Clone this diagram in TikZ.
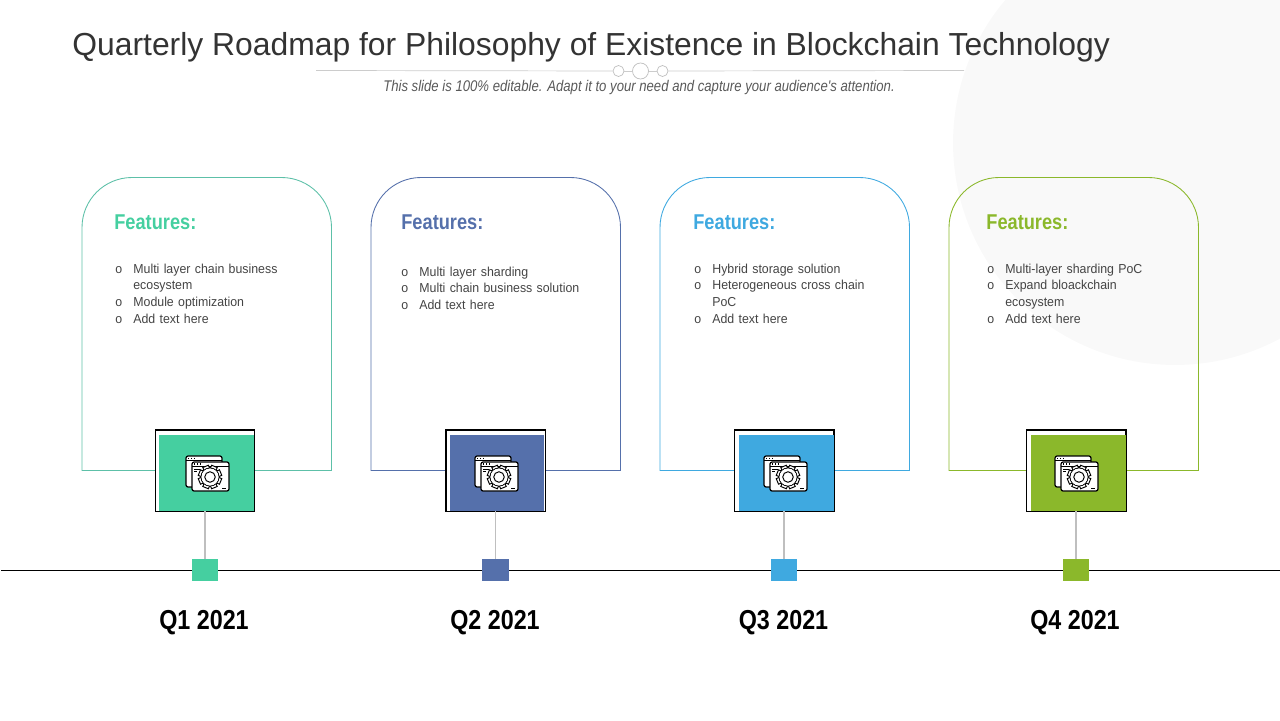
\documentclass[tikz,border=0pt]{standalone}
\usepackage{fontspec}
\setmainfont{Liberation Sans}
\newfontfamily\narrowfont[FakeStretch=0.85]{Liberation Sans}
\newfontfamily\bodyfont[FakeStretch=0.95]{Liberation Sans}
\usetikzlibrary{positioning}
\definecolor{mint}{HTML}{45CFA0}
\definecolor{cardmint}{HTML}{5DC0A8}
\definecolor{slate}{HTML}{5570AB}
\definecolor{sky}{HTML}{3FA9E0}
\definecolor{lime}{HTML}{8BB82B}
\definecolor{ink}{HTML}{444444}
\newenvironment{featlist}{\begin{list}{o}{\setlength{\leftmargin}{10.25pt}\setlength{\labelwidth}{10.25pt}\setlength{\labelsep}{0pt}\setlength{\itemsep}{0pt}\setlength{\parsep}{0pt}\setlength{\topsep}{0pt}\setlength{\partopsep}{0pt}\renewcommand{\makelabel}[1]{##1\hfil}}}{\end{list}}
\tikzset{
 feathead/.style={anchor=west, inner sep=0pt, font=\narrowfont\bfseries\fontsize{12.2}{14}\selectfont},
 featbody/.style={anchor=north west, inner sep=0pt, text width=3.8cm, align=left, text=ink, font=\bodyfont\fontsize{7.4}{9.5}\selectfont},
 iconframe/.style={draw=black, fill=white, line width=0.55pt, inner sep=0pt, minimum width=1.98cm, minimum height=1.62cm},
 iconfill/.style={inner sep=0pt, minimum width=1.9cm, minimum height=1.52cm},
 tickbox/.style={inner sep=0pt, minimum width=0.53cm, minimum height=0.44cm},
 quarter/.style={inner sep=0pt, font=\narrowfont\bfseries\fontsize{15.6}{20}\selectfont},
 stem/.style={draw=black!25, line width=0.6pt},
 dot/.style={circle, draw=black!25, fill=white, line width=0.4pt, inner sep=0pt},
 pics/softicon/.style={code={
  \draw[fill=white, line width=0.7pt, rounded corners=1.2pt] (-19,-22) rectangle (17,9);
  \draw[line width=0.4pt] (-19,-18) -- (17,-18);
  \draw[line width=0.4pt] (-17,-20.5) -- (-17,-19) (-14,-20.5) -- (-14,-19) (-11,-20.5) -- (-11,-19);
  \draw[fill=white, line width=0.7pt, rounded corners=1.2pt] (-13,-16) rectangle (24,13);
  \draw[line width=0.4pt] (-13,-12) -- (24,-12);
  \draw[line width=0.4pt] (-11,-15) -- (-11,-13.5) (-8,-15) -- (-8,-13.5) (-5,-15) -- (-5,-13.5);
  \draw[line width=0.4pt] (-11,-9) -- (-5,-9) (-11,-7) -- (-8,-7) (17,10) -- (21,10);
  \foreach \a in {0,45,...,315}
   \draw[rotate around={\a+22.5:(5,-1)}, line width=0.55pt, fill=white] (2,-1) rectangle (8,-12.5);
  \draw[line width=0.55pt, fill=white] (5,-1) circle (0.18cm);
  \fill[white] (5,-1) circle (0.17cm);
  \draw[line width=0.55pt] (5,-1) circle (0.105cm);
 }}
}
\begin{document}
\begin{tikzpicture}[x=0.02cm,y=-0.02cm]
 \useasboundingbox (0,0) rectangle (1280,720);
 \begin{scope}
  \clip (0,0) rectangle (1280,720);
  \fill[black!2.5] (1175,143) circle (4.44cm);
 \end{scope}
 % heading
 \node[inner sep=0pt, anchor=west, text=black!80, font=\fontsize{18.13}{22}\selectfont] (title) at (72,47) {Quarterly Roadmap for Philosophy of Existence in Blockchain Technology};
 \coordinate (ruleL) at (316,70.5);
 \coordinate (ruleR) at (964,70.5);
 \node[dot, minimum size=0.22cm] (dotA) at (618.5,71) {};
 \node[dot, minimum size=0.32cm] (dotB) at (640.5,71) {};
 \node[dot, minimum size=0.22cm] (dotC) at (662.5,71) {};
 \draw[black!20, line width=0.4pt] (ruleL) -- (dotA);
 \draw[black!20, line width=0.4pt] (dotA) -- (dotB);
 \draw[black!20, line width=0.4pt] (dotB) -- (dotC);
 \draw[black!20, line width=0.4pt] (dotC) -- (ruleR);
 \node[inner sep=0pt, text=black!65, font=\narrowfont\itshape\fontsize{8.8}{10}\selectfont] (subtitle) at (639,88) {This slide is 100\% editable. Adapt it to your need and capture your audience's attention.};
 % cards
 \draw[cardmint, line width=0.5pt] (155,470.5) -- (82,470.5) [rounded corners=1cm] -- (82,177.5) -- (331.5,177.5) [sharp corners] -- (331.5,470.5) -- (254,470.5);
 \draw[slate, line width=0.5pt] (446,470.5) -- (371,470.5) [rounded corners=1cm] -- (371,177.5) -- (620.5,177.5) [sharp corners] -- (620.5,470.5) -- (545,470.5);
 \draw[sky, line width=0.5pt] (735,470.5) -- (660,470.5) [rounded corners=1cm] -- (660,177.5) -- (909.5,177.5) [sharp corners] -- (909.5,470.5) -- (833,470.5);
 \draw[lime, line width=0.5pt] (1026,470.5) -- (949,470.5) [rounded corners=1cm] -- (949,177.5) -- (1198.5,177.5) [sharp corners] -- (1198.5,470.5) -- (1125,470.5);
 % card texts
 \node[feathead, text=mint] (headA) at (114,222) {Features:};
 \node[feathead, text=slate] (headB) at (401,222) {Features:};
 \node[feathead, text=sky] (headC) at (693,222) {Features:};
 \node[feathead, text=lime] (headD) at (986,222) {Features:};
 \node[featbody] (bodyA) at (115,256) {\begin{featlist}\item Multi layer chain business\newline ecosystem \item Module optimization \item Add text here\end{featlist}};
 \node[featbody] (bodyB) at (401,259) {\begin{featlist}\item Multi layer sharding \item Multi chain business solution \item Add text here\end{featlist}};
 \node[featbody] (bodyC) at (694,256) {\begin{featlist}\item Hybrid storage solution \item Heterogeneous cross chain\newline PoC \item Add text here\end{featlist}};
 \node[featbody] (bodyD) at (987,256) {\begin{featlist}\item Multi-layer sharding PoC \item Expand bloackchain\newline ecosystem \item Add text here\end{featlist}};
 % time line
 \coordinate (lineL) at (1,570.5);
 \coordinate (lineR) at (1280,570.5);
 \draw[black, line width=0.6pt] (lineL) -- (lineR);
 \node[tickbox, fill=mint] (tickA) at (205,570) {};
 \node[tickbox, fill=slate] (tickB) at (495.5,570) {};
 \node[tickbox, fill=sky] (tickC) at (784,570) {};
 \node[tickbox, fill=lime] (tickD) at (1076,570) {};
 % icon boxes
 \node[iconframe] (frameA) at (205,470.5) {};
 \node[iconframe] (frameB) at (495.5,470.5) {};
 \node[iconframe] (frameC) at (784,470.5) {};
 \node[iconframe] (frameD) at (1076,470.5) {};
 \node[iconfill, fill=mint] (iconA) at (206.5,473) {};
 \node[iconfill, fill=slate] (iconB) at (497,473) {};
 \node[iconfill, fill=sky] (iconC) at (786,473) {};
 \node[iconfill, fill=lime] (iconD) at (1078,473) {};
 \draw[line width=0.55pt] (frameA.south west) rectangle (frameA.north east);
 \draw[line width=0.55pt] (frameB.south west) rectangle (frameB.north east);
 \draw[line width=0.55pt] (frameC.south west) rectangle (frameC.north east);
 \draw[line width=0.55pt] (frameD.south west) rectangle (frameD.north east);
 \pic at (205,478) {softicon};
 \pic at (494,478) {softicon};
 \pic at (783,478) {softicon};
 \pic at (1074,478) {softicon};
 \draw[stem] (frameA) -- (tickA);
 \draw[stem] (frameB) -- (tickB);
 \draw[stem] (frameC) -- (tickC);
 \draw[stem] (frameD) -- (tickD);
 % quarters
 \node[quarter] (yearA) at (204,623) {Q1 2021};
 \node[quarter] (yearB) at (495,623) {Q2 2021};
 \node[quarter] (yearC) at (783.5,623) {Q3 2021};
 \node[quarter] (yearD) at (1075,623) {Q4 2021};
\end{tikzpicture}
\end{document}
